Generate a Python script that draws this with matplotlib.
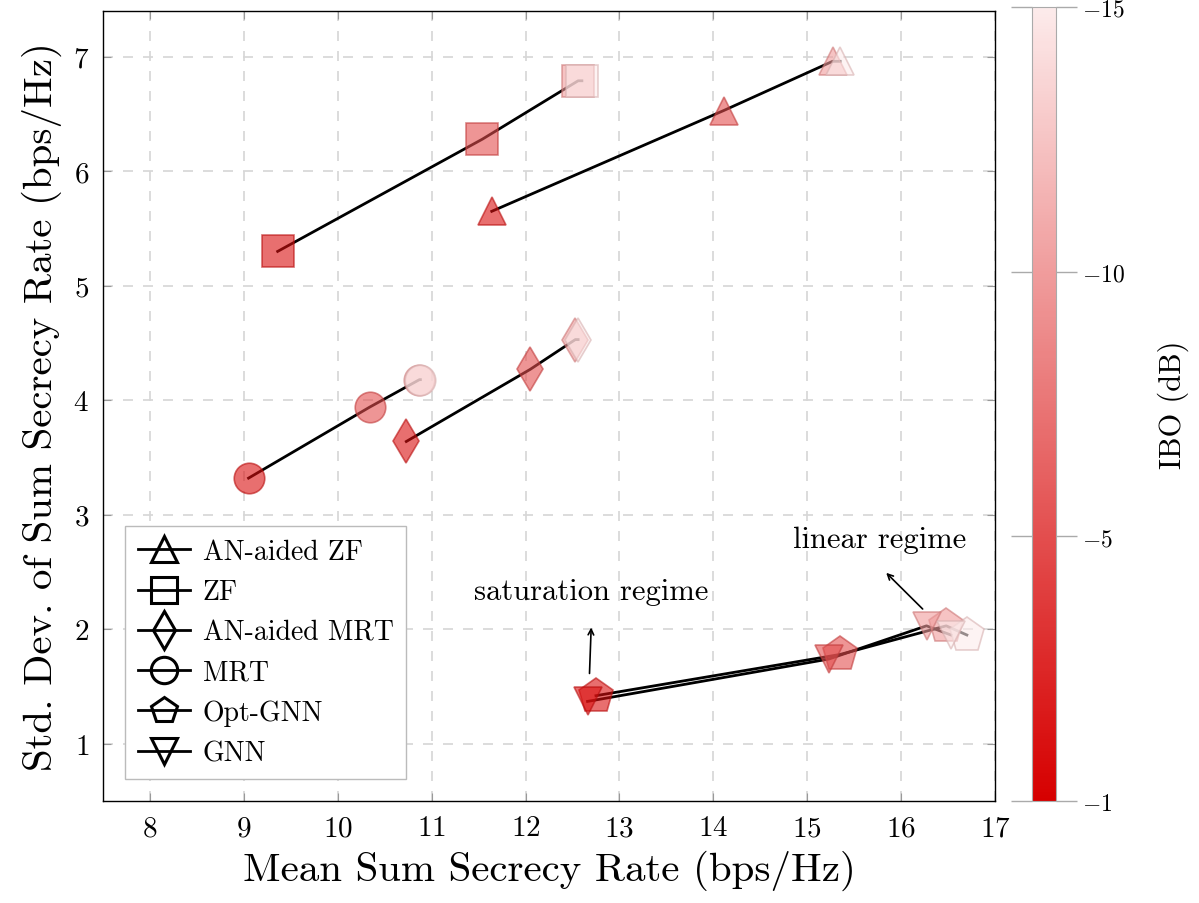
import matplotlib
matplotlib.use('Agg')
import matplotlib.pyplot as plt
from matplotlib.colors import LinearSegmentedColormap, Normalize
from matplotlib.lines import Line2D
import matplotlib.cm as cm

plt.rcParams['font.family'] = 'serif'
plt.rcParams['font.serif'] = ['cmr10']
plt.rcParams['mathtext.fontset'] = 'cm'
plt.rcParams['axes.formatter.use_mathtext'] = True

# IBO (dB) of each point along a curve
ibo = [-1, -5, -10, -15]

an_zf_x = [11.64, 14.11, 15.27, 15.35]
an_zf_y = [5.65, 6.53, 6.96, 6.96]
zf_x = [9.36, 11.54, 12.56, 12.60]
zf_y = [5.30, 6.28, 6.79, 6.79]
an_mrt_x = [10.73, 12.05, 12.53, 12.56]
an_mrt_y = [3.64, 4.27, 4.53, 4.53]
mrt_x = [9.05, 10.34, 10.87, 10.88]
mrt_y = [3.32, 3.94, 4.18, 4.18]
opt_gnn_x = [12.75, 15.35, 16.48, 16.70]
opt_gnn_y = [1.42, 1.78, 2.03, 1.95]
gnn_x = [12.66, 15.23, 16.27, 16.53]
gnn_y = [1.37, 1.74, 2.03, 1.95]

series = [
    ('AN-aided ZF', an_zf_x, an_zf_y, '^', 20),
    ('ZF', zf_x, zf_y, 's', 23),
    ('AN-aided MRT', an_mrt_x, an_mrt_y, 'd', 22),
    ('MRT', mrt_x, mrt_y, 'o', 22),
    ('Opt-GNN', opt_gnn_x, opt_gnn_y, 'p', 26),
    ('GNN', gnn_x, gnn_y, 'v', 20),
]

cbar_ticks = [-15, -10, -5, 0]
cbar_labels = ['$-15$', '$-10$', '$-5$', '$-1$']

cmap = LinearSegmentedColormap.from_list('ibo', [(0.99, 0.92, 0.92), (0.84, 0.0, 0.0)])
norm = Normalize(vmin=-15, vmax=0)

fig = plt.figure(figsize=(11.99, 9.04), dpi=100)
ax = fig.add_axes([0.0859, 0.1128, 0.744, 0.874])

for name, xs, ys, mk, ms in series:
    ax.plot(xs, ys, color='black', lw=2, zorder=2)
    for x, y, v in zip(xs, ys, ibo):
        c = cmap(norm(v))
        ec = (c[0] * 0.85, c[1] * 0.75, c[2] * 0.75)
        ax.plot(x, y, marker=mk, ms=ms, mfc=c, mec=ec, mew=1.2, alpha=0.6,
                ls='none', zorder=3)

ax.set_xlim(7.5, 17)
ax.set_ylim(0.5, 7.4)
ax.set_xticks(range(8, 18))
ax.set_yticks(range(1, 8))
ax.grid(True, color='#d6d6d6', ls=(0, (6, 6)), lw=1.2)
ax.tick_params(direction='in', length=6, color='#999999', labelsize=21,
               top=True, right=True, pad=10)
for s in ax.spines.values():
    s.set_linewidth(1.0)

ax.set_xlabel('Mean Sum Secrecy Rate (bps/Hz)', fontsize=29.5, labelpad=6)
ax.set_ylabel('Std. Dev. of Sum Secrecy Rate (bps/Hz)', fontsize=29.5, labelpad=8)

# regime annotations
ax.annotate('', xy=(15.82, 2.51), xytext=(16.25, 2.16),
            arrowprops=dict(arrowstyle='->', lw=1.2, color='black'))
ax.text(15.77, 2.79, 'linear regime', fontsize=22, ha='center', va='center')
ax.annotate('', xy=(12.70, 2.04), xytext=(12.68, 1.59),
            arrowprops=dict(arrowstyle='->', lw=1.2, color='black'))
ax.text(12.70, 2.33, 'saturation regime', fontsize=22, ha='center', va='center')

handles = [Line2D([], [], color='black', lw=2, marker=mk, ms=19, mfc='none',
                  mec='black', mew=2.2) for _, _, _, mk, _ in series]
labels = [s[0] for s in series]
leg = ax.legend(handles, labels, loc='lower left', fontsize=20, fancybox=False,
                edgecolor='#bbbbbb', framealpha=1, handlelength=1.9,
                handletextpad=0.45, borderaxespad=0.8, labelspacing=0.5,
                borderpad=0.45)
leg.get_frame().set_linewidth(1.0)

cax = fig.add_axes([0.8607, 0.1128, 0.02, 0.878])
sm = cm.ScalarMappable(norm=norm, cmap=cmap)
cb = fig.colorbar(sm, cax=cax)
cb.set_ticks(cbar_ticks)
cb.set_ticklabels(cbar_labels)
cax.invert_yaxis()
cb.outline.set_edgecolor('#aaaaaa')
cax.yaxis.set_ticks_position('both')
cax.tick_params(direction='out', length=15, color='#aaaaaa', labelsize=17,
                left=True, right=True, labelleft=False, labelright=True, width=1)
cb.set_label('IBO (dB)', fontsize=22, labelpad=24)

fig.savefig('out.png', dpi=100)
